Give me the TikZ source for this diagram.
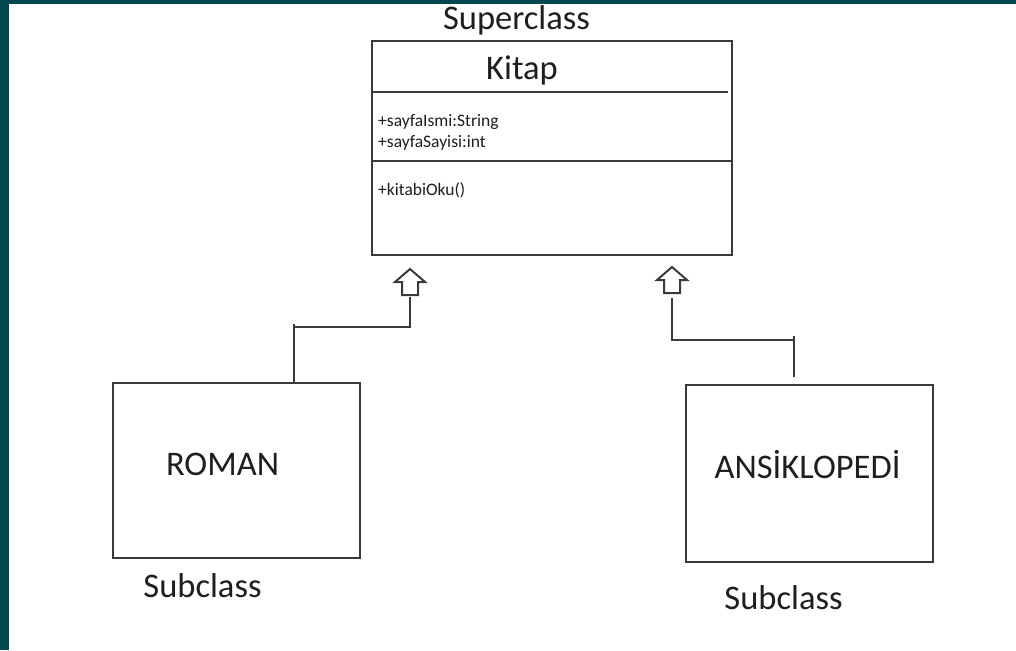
\documentclass[tikz,border=0pt]{standalone}
\usepackage{fontspec}
\setmainfont{Carlito}
\definecolor{frame}{HTML}{02474F}
\definecolor{ink}{HTML}{3A3A3A}
\definecolor{txt}{HTML}{1E1E1E}
\begin{document}
\begin{tikzpicture}[x=1pt,y=-1pt,
  umlbox/.style={draw=ink, line width=2.2pt, rectangle, inner sep=0pt},
  link/.style={draw=ink, line width=2pt},
  bigtext/.style={text=txt, font=\fontsize{34.5}{41}\selectfont, inner sep=0pt, anchor=base},
  smalltext/.style={text=txt, font=\fontsize{17.5}{21}\selectfont, inner sep=0pt, anchor=base west},
  hollowup/.pic={\draw[ink, line width=2pt, line join=miter]
    (0,0) -- (15,13) -- (8,13) -- (8,26) -- (-8,26) -- (-8,13) -- (-15,13) -- cycle;}
]
% page and frame
\useasboundingbox (0,0) rectangle (1016,650);
\fill[white] (0,0) rectangle (1016,650);
\fill[frame] (0,0) rectangle (8.5,650);
\fill[frame] (0,0) rectangle (1016,4);

% superclass
\node[umlbox, minimum width=360pt, minimum height=214pt] (kitap) at (552,148) {};
\draw[link] ([yshift=-52pt]kitap.north west) -- ++(357,0);
\draw[link] ([yshift=-121pt]kitap.north west) -- ([yshift=-121pt]kitap.north east);
\node[bigtext] (kitapname) at (522,80) {Kitap};
\node[bigtext] (superlbl) at (516.5,30) {Superclass};
\node[smalltext] (attr1) at (378,126) {+sayfaIsmi:String};
\node[smalltext] (attr2) at (378,147) {+sayfaSayisi:int};
\node[smalltext] (op1) at (378,195) {+kitabiOku()};

% subclasses
\node[umlbox, minimum width=247pt, minimum height=175pt] (roman) at (236.5,470.5) {};
\node[bigtext] (romanname) at (222.5,475) {ROMAN};
\node[bigtext] (subl) at (202.5,597) {Subclass};

\node[umlbox, minimum width=247pt, minimum height=177pt] (ansik) at (809.5,473.5) {};
\node[bigtext] (ansikname) at (807.5,478) {ANSİKLOPEDİ};
\node[bigtext] (subr) at (783.5,609) {Subclass};

% generalization arrows
\pic at (410,269) {hollowup};
\pic at (672,267) {hollowup};
\coordinate (lstem) at (410,297);
\coordinate (rstem) at (672,298);

\draw[link] ([xshift=182pt]roman.north west) -- ++(0,-58) ++(0,3) -| (lstem);
\draw[link] ([xshift=109pt,yshift=7pt]ansik.north west) -- ++(0,-41) ++(0,4) -| (rstem);
\end{tikzpicture}
\end{document}
